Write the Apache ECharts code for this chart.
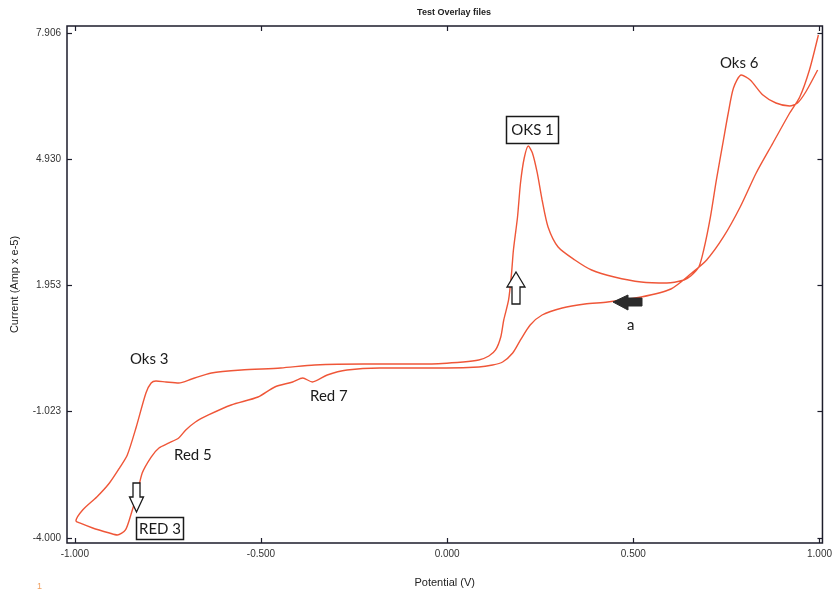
<!DOCTYPE html>
<html>
<head>
<meta charset="utf-8">
<script src="https://cdn.jsdelivr.net/npm/echarts@6/dist/echarts.min.js"></script>
<style>
  html, body { margin: 0; padding: 0; background: #ffffff; }
  #chart { width: 835px; height: 594px; }
</style>
</head>
<body>
<div id="chart"></div>
<script>
// Cyclic voltammogram: one continuous sweep, starting at the positive vertex,
// running the reduction branch leftwards and returning along the oxidation branch.
const potential = [
  0.997, 0.973, 0.947, 0.920, 0.875, 0.830, 0.787, 0.742, 0.697, 0.657,
  0.601, 0.521, 0.431, 0.370, 0.309, 0.255, 0.223, 0.197, 0.176, 0.149,
  0.122, 0.085, -0.003, -0.181, -0.269, -0.322, -0.362, -0.388, -0.415, -0.463,
  -0.508, -0.580, -0.641, -0.676, -0.702, -0.721, -0.747, -0.774, -0.795, -0.819,
  -0.832, -0.848, -0.864, -0.886, -0.907, -0.952, -0.987, -0.997,
  -0.979, -0.941, -0.907, -0.880, -0.859, -0.835, -0.809, -0.795, -0.782, -0.755,
  -0.721, -0.686, -0.633, -0.553, -0.447, -0.356, -0.223, -0.048, 0.043, 0.085,
  0.112, 0.130, 0.144, 0.152, 0.165, 0.173, 0.178, 0.189, 0.197, 0.207,
  0.218, 0.229, 0.242, 0.255, 0.271, 0.298, 0.343, 0.388, 0.449, 0.521,
  0.590, 0.636, 0.654, 0.676, 0.689, 0.707, 0.723, 0.742, 0.755, 0.769,
  0.790, 0.814, 0.848, 0.883, 0.920, 0.941, 0.963, 0.995
];
const current = [
  7.858, 7.033, 6.396, 6.019, 5.312, 4.605, 3.803, 3.096, 2.554, 2.247,
  1.870, 1.681, 1.563, 1.516, 1.422, 1.257, 1.021, 0.668, 0.361, 0.149,
  0.078, 0.031, 0.008, 0.008, -0.040, -0.157, -0.322, -0.228, -0.322, -0.440,
  -0.676, -0.865, -1.100, -1.265, -1.454, -1.643, -1.760, -1.878, -2.091, -2.468,
  -2.939, -3.411, -3.811, -3.929, -3.882, -3.764, -3.646, -3.599,
  -3.340, -3.033, -2.703, -2.350, -2.043, -1.383, -0.582, -0.346, -0.299, -0.322,
  -0.346, -0.252, -0.110, -0.040, 0.008, 0.078, 0.102, 0.102, 0.149, 0.196,
  0.290, 0.432, 0.738, 1.139, 1.611, 2.247, 2.789, 3.567, 4.369, 4.958,
  5.241, 5.076, 4.605, 3.968, 3.331, 2.860, 2.554, 2.318, 2.153, 2.035,
  2.011, 2.082, 2.176, 2.389, 2.789, 3.567, 4.439, 5.382, 6.019, 6.608,
  6.915, 6.797, 6.443, 6.255, 6.184, 6.255, 6.514, 7.033
];

const xTickValues = [-1.0, -0.5, 0.0, 0.5, 1.0];
const yTickValues = [-4.000, -1.023, 1.953, 4.930, 7.906];

const xRange = [-1.021, 1.008];
const yRange = [-4.118, 8.07];

const sweep = potential.map((v, i) => [v, current[i]]);

const frameColor = '#1d1d2b';
const tickFont = { fontFamily: 'Liberation Sans, Arial, sans-serif', fontSize: 10, color: '#333333' };
const nameFont = { fontFamily: 'Liberation Sans, Arial, sans-serif', fontSize: 11, color: '#222222' };
const noteFont = 'Lato, "Open Sans", sans-serif';

function valueAxis(range, ticks, opts) {
  return Object.assign({
    type: 'value',
    min: range[0],
    max: range[1],
    splitLine: { show: false },
    axisLine: { show: false, onZero: false },
    axisTick: { show: true, inside: true, length: 5, customValues: ticks,
                lineStyle: { color: frameColor, width: 1.2 } },
    axisLabel: { show: true, customValues: ticks, formatter: v => v.toFixed(3),
                 ...tickFont, margin: 6 }
  }, opts);
}

const chart = echarts.init(document.getElementById('chart'), null, { renderer: 'canvas' });

chart.setOption({
  animation: false,
  backgroundColor: '#ffffff',
  title: {
    text: 'Test Overlay files',
    left: 449,
    top: 3,
    textAlign: 'center',
    textStyle: { fontFamily: 'Liberation Sans, Arial, sans-serif', fontSize: 9, fontWeight: 'bold', color: '#222222' }
  },
  grid: {
    left: 67, right: 5, top: 26, bottom: 51,
    show: true, borderColor: frameColor, borderWidth: 1.5, backgroundColor: 'transparent'
  },
  xAxis: [
    valueAxis(xRange, xTickValues, {
      name: 'Potential (V)', nameLocation: 'middle', nameGap: 34, nameTextStyle: nameFont
    }),
    valueAxis(xRange, xTickValues, { position: 'top', axisLabel: { show: false } })
  ],
  yAxis: [
    valueAxis(yRange, yTickValues, {
      name: 'Current (Amp x e-5)', nameLocation: 'middle', nameGap: 47, nameTextStyle: nameFont
    }),
    valueAxis(yRange, yTickValues, { position: 'right', axisLabel: { show: false } })
  ],
  series: [{
    type: 'line',
    data: sweep,
    xAxisIndex: 0,
    yAxisIndex: 0,
    showSymbol: false,
    smooth: 0.25,
    lineStyle: { color: '#ef5638', width: 1.4 },
    z: 3
  }],
  graphic: [
    // peak labels
    { type: 'text', left: 720, top: 56, style: { text: 'Oks 6', font: '15px ' + noteFont, fill: '#1a1a1a' } },
    { type: 'text', left: 130, top: 352, style: { text: 'Oks 3', font: '15px ' + noteFont, fill: '#1a1a1a' } },
    { type: 'text', left: 310, top: 389, style: { text: 'Red 7', font: '15px ' + noteFont, fill: '#1a1a1a' } },
    { type: 'text', left: 174, top: 448, style: { text: 'Red 5', font: '15px ' + noteFont, fill: '#1a1a1a' } },
    { type: 'text', left: 627, top: 318, style: { text: 'a', font: '15px ' + noteFont, fill: '#1a1a1a' } },
    // boxed labels
    { type: 'rect', shape: { x: 506.5, y: 116.5, width: 52, height: 27 },
      style: { fill: '#ffffff', stroke: '#1a1a1a', lineWidth: 1.5 }, z: 10 },
    { type: 'text', x: 532.5, y: 130, z: 11,
      style: { text: 'OKS 1', font: '15px ' + noteFont, fill: '#1a1a1a', align: 'center', verticalAlign: 'middle' } },
    { type: 'rect', shape: { x: 136.5, y: 517.5, width: 47, height: 22 },
      style: { fill: '#ffffff', stroke: '#1a1a1a', lineWidth: 1.5 }, z: 10 },
    { type: 'text', x: 160, y: 529, z: 11,
      style: { text: 'RED 3', font: '15px ' + noteFont, fill: '#1a1a1a', align: 'center', verticalAlign: 'middle' } },
    // hollow arrow pointing up at the anodic rise
    { type: 'polygon', z: 10,
      shape: { points: [[516, 272], [525, 287], [520, 287], [520, 304], [512, 304], [512, 287], [507, 287]] },
      style: { fill: '#ffffff', stroke: '#1a1a1a', lineWidth: 1.3 } },
    // hollow arrow pointing down at the cathodic peak
    { type: 'polygon', z: 10,
      shape: { points: [[133, 483], [140, 483], [140, 497], [143.5, 497], [136.5, 512], [129.5, 497], [133, 497]] },
      style: { fill: '#ffffff', stroke: '#1a1a1a', lineWidth: 1.3 } },
    // filled arrow marking the sweep direction
    { type: 'polygon', z: 10,
      shape: { points: [[613, 302], [628, 295], [628, 298], [642, 298], [642, 306], [628, 306], [628, 310]] },
      style: { fill: '#2b2b2b', stroke: '#2b2b2b', lineWidth: 1 } },
    // page number
    { type: 'text', left: 37, top: 582, style: { text: '1', font: '9px Liberation Sans, Arial, sans-serif', fill: '#f0a060' } }
  ]
});
</script>
</body>
</html>
